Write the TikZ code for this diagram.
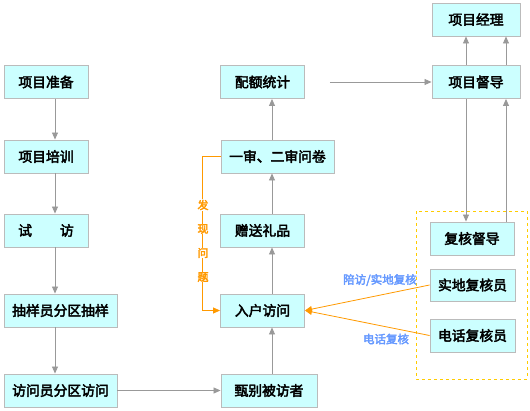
\documentclass[tikz,border=0pt]{standalone}
\usepackage{fontspec}
\setmainfont{Noto Sans CJK SC}
\newfontfamily\heavy{Noto Sans CJK SC}[FakeBold=3]
\usepackage{tikz}
\usetikzlibrary{arrows.meta,positioning,calc}
\definecolor{boxfill}{HTML}{CCFFFF}
\definecolor{boxline}{HTML}{BBBBBB}
\definecolor{flowgray}{HTML}{999999}
\definecolor{alarm}{HTML}{FF9900}
\definecolor{frameyel}{HTML}{FFCC00}
\definecolor{notes}{HTML}{6699FF}

\begin{document}
\begin{tikzpicture}[x=1pt,y=-1pt,font=\fontsize{13.8}{15}\selectfont\heavy,>={Triangle[length=7pt,width=6pt]}]
\tikzset{part/.style={draw=boxline,fill=boxfill,line width=0.9pt,inner sep=0pt,minimum height=33pt},
  arr/.style={->,draw=flowgray,line width=0.8pt},
  warn/.style={->,draw=alarm,line width=0.8pt},
  tag/.style={text=notes,font=\fontsize{11.5}{13}\selectfont\heavy}}
\useasboundingbox (0,0) rectangle (530,410);
% left column
\node[part,minimum width=84pt] (zb) at (46,82) {项目准备};
\node[part,minimum width=84pt] (px) at (46,156.5) {项目培训};
\node[part,minimum width=84pt] (sf) at (46,230.5) {试\hspace{28pt}访};
\node[part,minimum width=113pt] (cy) at (60.5,310.5) {抽样员分区抽样};
\node[part,minimum width=113pt] (fw) at (60.5,390.5) {访问员分区访问};
\coordinate (lx) at (55,0);
\draw[arr] (zb.south -| lx)--(px.north -| lx);
\draw[arr] (px.south -| lx)--(sf.north -| lx);
\draw[arr] (sf.south -| lx)--(cy.north -| lx);
\draw[arr] (cy.south -| lx)--(fw.north -| lx);
% middle column
\node[part,minimum width=84pt] (pe) at (262.5,82) {配额统计};
\node[part,minimum width=113pt] (ys) at (277.5,156.5) {一审、二审问卷};
\node[part,minimum width=84pt] (zs) at (262.5,230.5) {赠送礼品};
\node[part,minimum width=84pt] (rh) at (262.5,310.5) {入户访问};
\node[part,minimum width=96pt] (zf) at (269,390.5) {甄别被访者};
\coordinate (mx) at (272,0);
\draw[arr] (fw.east)--(zf.west);
\draw[arr] (zf.north -| mx)--(rh.south -| mx);
\draw[arr] (rh.north -| mx)--(zs.south -| mx);
\draw[arr] (zs.north -| mx)--(ys.south -| mx);
\draw[arr] (ys.north -| mx)--(pe.south -| mx);
% right column
\node[part,minimum width=88pt] (jl) at (476,19.5) {项目经理};
\node[part,minimum width=88pt] (dd) at (476,82) {项目督导};
\draw[frameyel,dashed,line width=0.8pt] (416,211) rectangle (527,379);
\node[part,minimum width=84pt] (fd) at (472,238.5) {复核督导};
\node[part,minimum width=85pt,minimum height=32pt] (sd) at (472.5,285) {实地复核员};
\node[part,minimum width=85pt] (dh) at (472.5,335.5) {电话复核员};
\coordinate (ra) at (466,0);
\coordinate (rb) at (506,0);
\draw[arr] ([xshift=25pt]pe.east)--(dd.west);
\draw[arr] (dd.north -| ra)--(jl.south -| ra);
\draw[arr] (dd.north -| rb)--(jl.south -| rb);
\draw[arr] (dd.south -| ra)--(fd.north -| ra);
\draw[arr] (fd.north -| rb)--(dd.south -| rb);
% problems found -> back to the visit
\draw[warn] (ys.west)--++(-18,0) |- (rh.west);
\foreach \ch [count=\i] in {发,现,问,题}
  \node[text=alarm,fill=white,inner sep=0.5pt,font=\fontsize{11}{12}\selectfont\heavy] (fx\i) at (203,181+24*\i) {\ch};
\draw[warn] (sd.west)--(rh.east);
\draw[warn] (dh.west)--(rh.east);
\node[tag] (tsd) at (380,280) {陪访/实地复核};
\node[tag] (tdh) at (386,339) {电话复核};
\end{tikzpicture}
\end{document}
